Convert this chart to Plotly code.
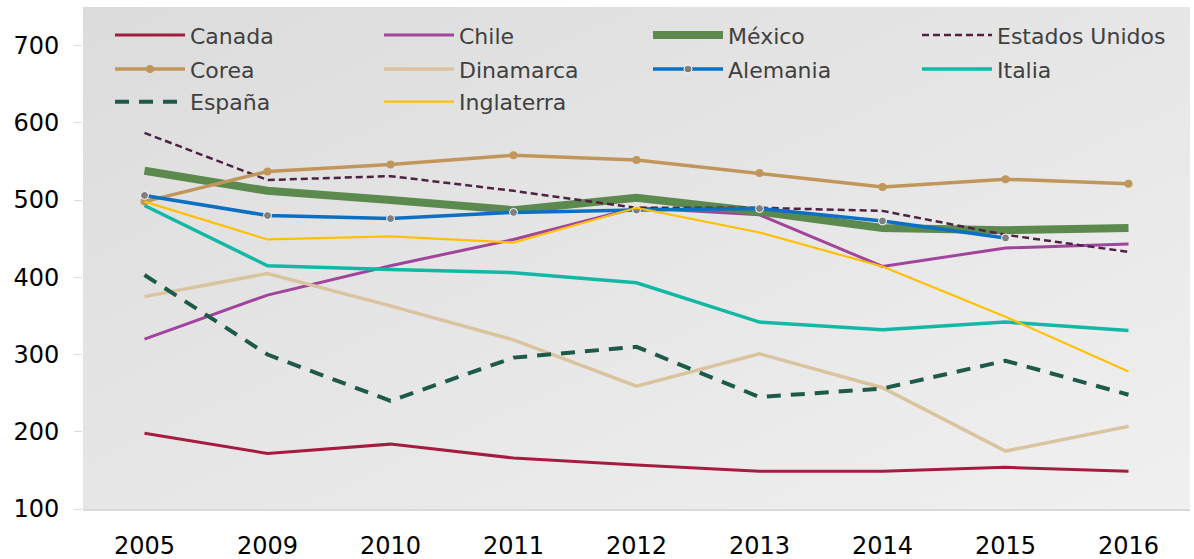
import plotly.graph_objects as go

years = ["2005", "2009", "2010", "2011", "2012", "2013", "2014", "2015", "2016"]

canada = [198, 172, 184, 166, 157, 149, 149, 154, 149]
chile = [320, 377, 415, 449, 490, 481, 414, 438, 443]
mexico = [538, 512, 500, 487, 503, 485, 464, 461, 464]
estados_unidos = [587, 526, 531, 512, 490, 490, 486, 455, 433]
corea = [498, 537, 546, 558, 552, 535, 517, 527, 521]
dinamarca = [375, 405, 363, 319, 259, 301, 257, 175, 207]
alemania = [506, 480, 476, 484, 487, 489, 473, 451, None]
italia = [493, 415, 410, 406, 393, 342, 332, 342, 331]
espana = [403, 300, 240, 296, 310, 245, 256, 292, 248]
inglaterra = [498, 449, 453, 445, 490, 458, 414, 349, 278]

# (name, values, line style, marker style, legend row)
series = [
    ("Canada", canada, dict(color="#A51C3F", width=3), None, "legend"),
    ("Chile", chile, dict(color="#A0449C", width=3), None, "legend"),
    ("México", mexico, dict(color="#5C8A4E", width=8), None, "legend"),
    ("Estados Unidos", estados_unidos, dict(color="#4D2243", width=2.5, dash="7px,4px"), None, "legend"),
    ("Corea", corea, dict(color="#C1965B", width=3.5), dict(size=8, color="#C1965B"), "legend2"),
    ("Dinamarca", dinamarca, dict(color="#D9C49F", width=3.5), None, "legend2"),
    ("Alemania", alemania, dict(color="#0B6FC3", width=3.5),
     dict(size=8, color="#7F7F7F", line=dict(color="white", width=1)), "legend2"),
    ("Italia", italia, dict(color="#12B8A5", width=3.5), None, "legend2"),
    ("España", espana, dict(color="#1D5A4A", width=4, dash="14px,10px"), None, "legend3"),
    ("Inglaterra", inglaterra, dict(color="#FFC000", width=2.2), None, "legend3"),
]

fig = go.Figure()
for name, vals, line, marker, leg in series:
    fig.add_trace(go.Scatter(
        x=years, y=vals, name=name,
        mode="lines+markers" if marker else "lines",
        line=line, marker=marker, connectgaps=False, legend=leg,
    ))

# diagonal grey gradient behind the plotting area
grad_svg = (
    "data:image/svg+xml;utf8,"
    "<svg xmlns='http://www.w3.org/2000/svg' width='1100' height='500' preserveAspectRatio='none'>"
    "<defs><linearGradient id='g' x1='0' y1='0' x2='1' y2='1'>"
    "<stop offset='0' stop-color='%23DCDCDC'/>"
    "<stop offset='1' stop-color='%23F0F0F0'/>"
    "</linearGradient></defs>"
    "<rect width='1100' height='500' fill='url(%23g)'/></svg>"
)
fig.add_layout_image(dict(
    source=grad_svg, xref="paper", yref="paper", x=0, y=1,
    sizex=1, sizey=1, sizing="stretch", layer="below",
    xanchor="left", yanchor="top",
))


def legend_row(ypos):
    return dict(
        orientation="h", x=0.0244, y=ypos, xanchor="left", yanchor="middle",
        entrywidth=184, entrywidthmode="pixels", itemwidth=70,
        bgcolor="rgba(0,0,0,0)", font=dict(size=22, color="#404040"),
        tracegroupgap=0, traceorder="normal",
    )


fig.update_layout(
    width=1194, height=559,
    margin=dict(l=83, r=4, t=7, b=50),
    paper_bgcolor="white",
    plot_bgcolor="rgba(0,0,0,0)",
    font=dict(family="DejaVu Sans, sans-serif", color="#000000"),
    showlegend=True,
    legend=legend_row(0.944),
    legend2=legend_row(0.876),
    legend3=legend_row(0.811),
    xaxis=dict(
        type="category", range=[-0.5, 8.5], showgrid=False, automargin=False,
        showline=True, linecolor="#D9D9D9", linewidth=1.5,
        ticks="", tickfont=dict(size=24, color="#000000"), ticklabelstandoff=14,
    ),
    yaxis=dict(
        range=[100, 750], tickvals=[100, 200, 300, 400, 500, 600, 700],
        showgrid=False, zeroline=False, showline=False, automargin=False,
        ticks="outside", ticklen=8, tickcolor="#D9D9D9", tickwidth=1,
        tickfont=dict(size=24, color="#000000"), ticklabelstandoff=10,
    ),
)

fig.write_html("out.html")
